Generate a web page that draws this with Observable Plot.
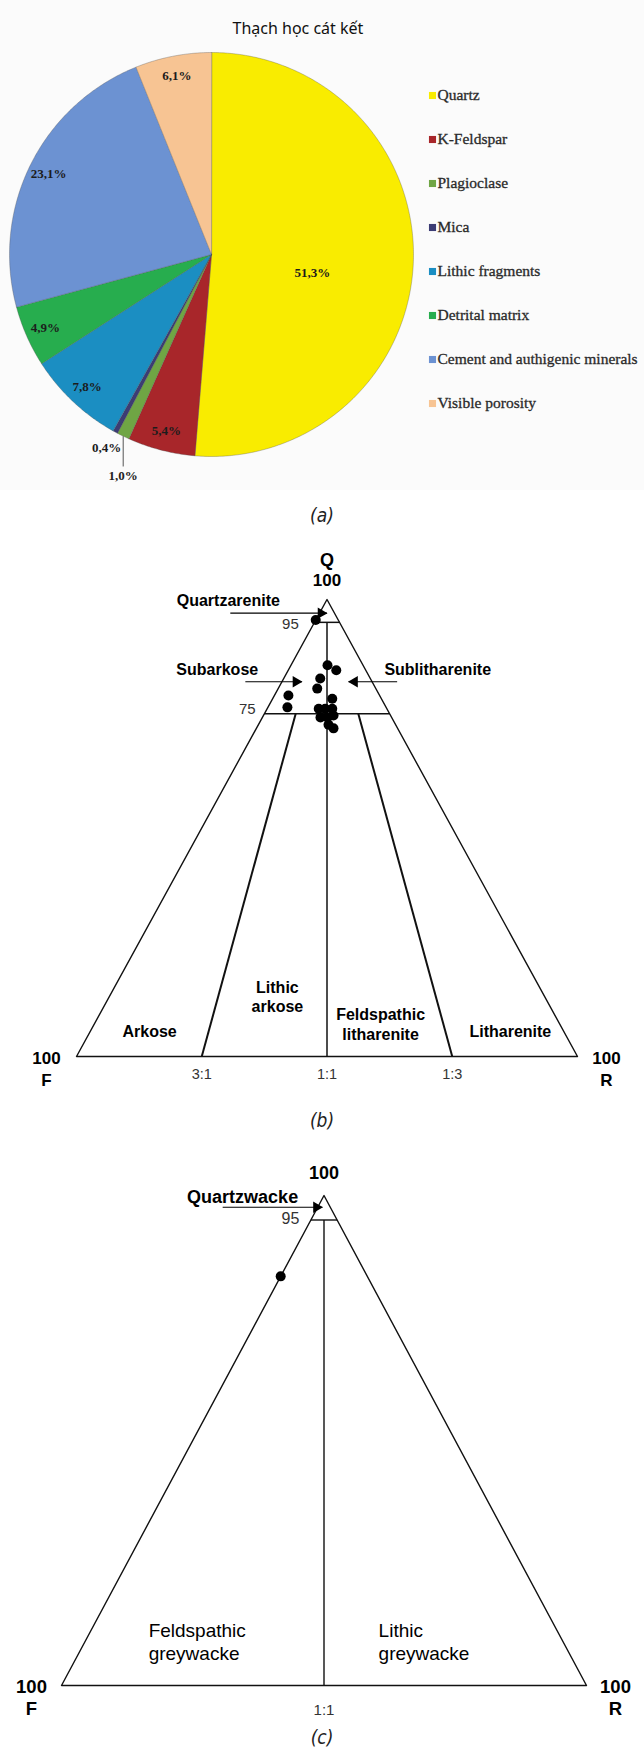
<!DOCTYPE html>
<html>
<head>
<meta charset="utf-8">
<script src="https://cdn.jsdelivr.net/npm/d3@7"></script>
<script src="https://cdn.jsdelivr.net/npm/@observablehq/plot@0.6"></script>
<style>
  html, body { margin: 0; padding: 0; background: #fff; }
  #page { position: relative; width: 644px; height: 1752px; overflow: hidden; }
  #page svg { position: absolute; left: 0; overflow: visible; }
  .caption {
    position: absolute; left: 0; width: 644px; text-align: center;
    font-family: "Liberation Sans Narrow", "DejaVu Sans Condensed", "Roboto", sans-serif;
    font-stretch: condensed; font-style: italic; font-size: 19px; line-height: 20px; color: #222;
  }
</style>
</head>
<body>
<div id="page"></div>
<script>
// ---- Sandstone petrography (percent of rock volume) ----
const components = ["Quartz", "K-Feldspar", "Plagioclase", "Mica", "Lithic fragments",
  "Detrital matrix", "Cement and authigenic minerals", "Visible porosity"];
const componentShares = [51.3, 5.4, 1.0, 0.4, 7.8, 4.9, 23.1, 6.1];
const componentColors = ["#f9ec00", "#a8262a", "#6fa544", "#3c3c74", "#1b8ec2",
  "#27ad4e", "#6c92d2", "#f7c493"];
const pieTitle = "Thạch học cát kết";

// ---- QFR compositions (Q, F, R in percent) of the arenite samples ----
const arenitesQ = [95.5, 85.6, 84.5, 82.7, 80.5, 79.0, 76.4, 78.3, 76.1, 76.1, 76.1, 74.2, 74.2, 74.6, 72.6, 71.8];
const arenitesF = [4.5, 7.1, 5.9, 10.0, 11.7, 18.2, 19.7, 9.8, 13.6, 12.3, 10.9, 14.2, 12.8, 11.4, 13.4, 12.8];
const arenitesR = [0.0, 7.3, 9.6, 7.3, 7.8, 2.8, 3.9, 11.9, 10.3, 11.6, 13.0, 11.6, 13.0, 14.0, 14.0, 15.4];

// ---- QFR composition of the wacke sample ----
const wackesQ = [83.5];
const wackesF = [16.5];
const wackesR = [0.0];

// ---- Classification boundaries ----
const quartzLimits = [95, 75];           // Q iso-lines
const ratioTicks = ["3:1", "1:1", "1:3"]; // F:R ratio lines
const ratioShares = [25, 50, 75];        // R share of F+R for those ratios

const page = document.getElementById("page");
const SANS = "'Liberation Sans', Arial, sans-serif";
const SERIF = "'Liberation Serif', 'Times New Roman', serif";
const fmtPct = v => d3.format(".1f")(v).replace(".", ",") + "%";

function place(node, top) {
  node.style.top = top + "px";
  page.appendChild(node);
}
function caption(text, centerY) {
  const div = document.createElement("div");
  div.className = "caption";
  div.textContent = text;
  div.style.top = (centerY - 10) + "px";
  page.appendChild(div);
}

// ================= (a) pie chart =================
const slices = components.map((name, i) => ({name, share: componentShares[i]}));
const arcs = d3.pie().sort(null).value(d => d.share)(slices);

// Polygon outline of each wedge (unit circle, clockwise from 12 o'clock)
const wedgePoints = arcs.flatMap(a => {
  const n = Math.max(2, Math.ceil((a.endAngle - a.startAngle) / 0.01));
  const pts = [{name: a.data.name, x: 0, y: 0}];
  for (let i = 0; i <= n; i++) {
    const t = a.startAngle + (a.endAngle - a.startAngle) * i / n;
    pts.push({name: a.data.name, x: Math.sin(t), y: Math.cos(t)});
  }
  return pts;
});

// Label placement along each wedge's bisector (radius as a fraction of the pie radius)
const labelRadius = {"Quartz": 0.5, "Mica": 1.09};
const labelShift = {"Quartz": 14};
const pieLabels = arcs.filter(a => a.data.name !== "Plagioclase").map(a => {
  const mid = (a.startAngle + a.endAngle) / 2;
  const rr = labelRadius[a.data.name] ?? 0.9;
  return {name: a.data.name, text: fmtPct(a.data.share), x: rr * Math.sin(mid), y: rr * Math.cos(mid),
          dy: labelShift[a.data.name] ?? 0};
});
const plag = arcs.find(a => a.data.name === "Plagioclase");
const plagMid = (plag.startAngle + plag.endAngle) / 2;
const leader = [{x: Math.sin(plagMid), y1: Math.cos(plagMid), y2: Math.cos(plagMid) - 0.15}];

const pieChart = Plot.plot({
  width: 644, height: 490, margin: 0,
  style: {background: "#fbfbfb", overflow: "visible"},
  x: {domain: [-1, 1], range: [9, 413], axis: null},
  y: {domain: [-1, 1], range: [456, 52], axis: null},
  color: {domain: components, range: componentColors},
  marks: [
    Plot.line(wedgePoints, {x: "x", y: "y", z: "name", fill: "name", curve: "linear-closed",
      stroke: "#4a4a4a", strokeOpacity: 0.4, strokeWidth: 0.8}),
    Plot.link(leader, {x1: "x", x2: "x", y1: "y1", y2: "y2", stroke: "#555", strokeWidth: 1}),
    Plot.text(leader, {x: "x", y: "y2", dy: 9, text: () => fmtPct(plag.data.share),
      fontFamily: SERIF, fontWeight: "bold", fontSize: 13, fill: "#222"}),
    ...pieLabels.map(d => Plot.text([d], {x: "x", y: "y", dy: d.dy, text: "text",
      fontFamily: SERIF, fontWeight: "bold", fontSize: 13, fill: "#1c1c1c"})),
    Plot.text([pieTitle], {frameAnchor: "top-left", dx: 232, dy: 22, text: d => d,
      fontFamily: "'Noto Sans', 'Open Sans', sans-serif", fontSize: 16, fill: "#111"})
  ]
});
place(pieChart, 0);

const legend = Plot.plot({
  width: 224, height: 490, margin: 0,
  style: {background: "none", overflow: "visible"},
  y: {type: "point", domain: components, range: [95, 403], padding: 0, axis: null},
  color: {domain: components, range: componentColors},
  marks: [
    Plot.dot(components, {y: d => d, frameAnchor: "left", dx: 12, symbol: "square", r: 4, fill: d => d}),
    Plot.text(components, {y: d => d, frameAnchor: "left", dx: 17, textAnchor: "start", text: d => d,
      fontFamily: SERIF, fontSize: 15.5, fill: "#2a2a2a", stroke: "#2a2a2a", strokeWidth: 0.3})
  ]
});
legend.style.left = "420px";
place(legend, 0);
caption("(a)", 515);

// ================= ternary helpers =================
const tern = (q, f, r) => { const s = q + f + r; return {x: 100 * (r + q / 2) / s, y: 100 * q / s}; };
const samples = (Q, F, R) => Q.map((q, i) => tern(q, F[i], R[i]));
const qLine = q => { const a = tern(q, 100 - q, 0), b = tern(q, 0, 100 - q); return {x1: a.x, y1: a.y, x2: b.x, y2: b.y}; };
const ratioLine = (share, qTop) => {
  const a = tern(qTop, (100 - qTop) * (1 - share / 100), (100 - qTop) * share / 100);
  const b = tern(0, 100 - share, share);
  return {x1: a.x, y1: a.y, x2: b.x, y2: b.y};
};
const outline = [tern(0, 100, 0), tern(0, 0, 100), tern(100, 0, 0)];
const note = (x, y, text, o = {}) => Plot.text([text], {x: [x], y: [y], text: [text], fontFamily: SANS, ...o});
const arrowTo = (x1, x2, y, dir) => [
  Plot.link([0], {x1: [x1], x2: [x2], y1: [y], y2: [y], stroke: "#000", strokeWidth: 1.2}),
  Plot.dot([0], {x: [x2], y: [y], symbol: "triangle", r: 4.2, rotate: dir > 0 ? 90 : -90,
    dx: dir > 0 ? -6 : 6, fill: "#000", stroke: "none"})
];
const vertexLabels = (fs) => [
  note(0, 0, "100", {dx: -30, dy: 2, fontWeight: "bold", fontSize: fs}),
  note(0, 0, "F", {dx: -30, dy: 24, fontWeight: "bold", fontSize: fs}),
  note(100, 0, "100", {dx: 29, dy: 2, fontWeight: "bold", fontSize: fs}),
  note(100, 0, "R", {dx: 29, dy: 24, fontWeight: "bold", fontSize: fs})
];

// ================= (b) QFR arenites =================
const bBounds = [
  qLine(quartzLimits[0]), qLine(quartzLimits[1]),
  ratioLine(ratioShares[1], quartzLimits[0])
];
const bRatio = [ratioLine(ratioShares[0], quartzLimits[1]), ratioLine(ratioShares[2], quartzLimits[1])];

const chartB = Plot.plot({
  width: 644, height: 620, margin: 0,
  style: {background: "none", overflow: "visible"},
  x: {domain: [0, 100], range: [76, 577], axis: null},
  y: {domain: [0, 100], range: [536, 79], axis: null},
  marks: [
    Plot.line(outline, {x: "x", y: "y", curve: "linear-closed", stroke: "#111", strokeWidth: 1.4}),
    Plot.link(bBounds, {x1: "x1", y1: "y1", x2: "x2", y2: "y2", stroke: "#111", strokeWidth: 1.5}),
    Plot.link(bRatio, {x1: "x1", y1: "y1", x2: "x2", y2: "y2", stroke: "#111", strokeWidth: 2}),
    Plot.dot(samples(arenitesQ, arenitesF, arenitesR), {x: "x", y: "y", r: 5, fill: "#000"}),
    ...arrowTo(30.7, 50, 97, 1),
    ...arrowTo(33.7, 45, 82, 1),
    ...arrowTo(64, 54.3, 82, -1),
    note(50, 100, "Q", {dy: -39, fontWeight: "bold", fontSize: 18}),
    note(50, 100, "100", {dy: -19, fontWeight: "bold", fontSize: 17}),
    note(30.3, 99.6, "Quartzarenite", {fontWeight: "bold", fontSize: 16}),
    note(42.7, 94.5, "95", {fontSize: 15, fill: "#333"}),
    note(28.1, 84.7, "Subarkose", {fontWeight: "bold", fontSize: 16}),
    note(72.1, 84.7, "Sublitharenite", {fontWeight: "bold", fontSize: 16}),
    note(34.1, 76.1, "75", {fontSize: 15, fill: "#333"}),
    note(14.6, 5.3, "Arkose", {fontWeight: "bold", fontSize: 16}),
    note(40.1, 13.2, "Lithic\narkose", {fontWeight: "bold", fontSize: 16, lineHeight: 1.2}),
    note(60.7, 7.2, "Feldspathic\nlitharenite", {fontWeight: "bold", fontSize: 16, lineHeight: 1.22}),
    note(86.6, 5.3, "Litharenite", {fontWeight: "bold", fontSize: 16}),
    ...vertexLabels(17),
    Plot.text(ratioTicks, {x: (d, i) => ratioShares[i], y: () => 0, text: d => d,
      dy: 18, fontFamily: SANS, fontSize: 14.5, fill: "#333"})
  ]
});
place(chartB, 520);
caption("(b)", 1120);

// ================= (c) QFR wackes =================
const cBounds = [qLine(quartzLimits[0]), ratioLine(ratioShares[1], quartzLimits[0])];

const chartC = Plot.plot({
  width: 644, height: 612, margin: 0,
  style: {background: "none", overflow: "visible"},
  x: {domain: [0, 100], range: [61, 586], axis: null},
  y: {domain: [0, 100], range: [545, 55], axis: null},
  marks: [
    Plot.line(outline, {x: "x", y: "y", curve: "linear-closed", stroke: "#111", strokeWidth: 1.4}),
    Plot.link(cBounds, {x1: "x1", y1: "y1", x2: "x2", y2: "y2", stroke: "#111", strokeWidth: 1.4}),
    Plot.dot(samples(wackesQ, wackesF, wackesR), {x: "x", y: "y", r: 5, fill: "#000"}),
    ...arrowTo(30.7, 49.7, 97.6, 1),
    note(50, 100, "100", {dy: -22, fontWeight: "bold", fontSize: 18}),
    note(34.5, 99.6, "Quartzwacke", {fontWeight: "bold", fontSize: 18}),
    note(43.6, 95.3, "95", {fontSize: 16, fill: "#333"}),
    note(16.6, 9.0, "Feldspathic\ngreywacke", {textAnchor: "start", fontSize: 19, lineHeight: 1.18}),
    note(60.4, 9.0, "Lithic\ngreywacke", {textAnchor: "start", fontSize: 19, lineHeight: 1.18}),
    ...vertexLabels(18.5),
    Plot.text([ratioTicks[1]], {x: () => ratioShares[1], y: () => 0, text: d => d,
      dy: 25, fontFamily: SANS, fontSize: 15, fill: "#333"})
  ]
});
place(chartC, 1140);
caption("(c)", 1737);
</script>
</body>
</html>
